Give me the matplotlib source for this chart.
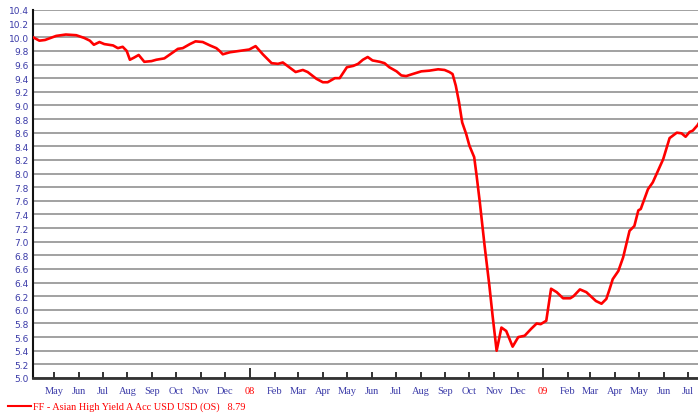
import matplotlib
matplotlib.use("Agg")
import matplotlib.pyplot as plt
from matplotlib.lines import Line2D
import pandas as pd

# Fund price history (USD)
dates = [
    "2007-04-05", "2007-04-13", "2007-04-20", "2007-05-04", "2007-05-16", "2007-05-29",
    "2007-06-08", "2007-06-15", "2007-06-20", "2007-06-27", "2007-07-03", "2007-07-14",
    "2007-07-20", "2007-07-26", "2007-07-31", "2007-08-04", "2007-08-09", "2007-08-15",
    "2007-08-22", "2007-08-31", "2007-09-06", "2007-09-16", "2007-09-27", "2007-10-03",
    "2007-10-09", "2007-10-18", "2007-10-25", "2007-11-03", "2007-11-12", "2007-11-20",
    "2007-11-24", "2007-11-28", "2007-12-07", "2007-12-19", "2007-12-31", "2008-01-08",
    "2008-01-17", "2008-01-28", "2008-02-05", "2008-02-11", "2008-02-19", "2008-02-27",
    "2008-03-07", "2008-03-13", "2008-03-24", "2008-04-01", "2008-04-07", "2008-04-16",
    "2008-04-22", "2008-05-01", "2008-05-09", "2008-05-15", "2008-05-21", "2008-05-27",
    "2008-06-02", "2008-06-11", "2008-06-17", "2008-06-23", "2008-07-02", "2008-07-08",
    "2008-07-14", "2008-07-22", "2008-08-02", "2008-08-12", "2008-08-23", "2008-08-31",
    "2008-09-06", "2008-09-10", "2008-09-14", "2008-09-18", "2008-09-22", "2008-09-27",
    "2008-10-01", "2008-10-07", "2008-10-10", "2008-10-14", "2008-10-20", "2008-10-26",
    "2008-10-30", "2008-11-04", "2008-11-10", "2008-11-16", "2008-11-24", "2008-12-01",
    "2008-12-09", "2008-12-17", "2008-12-24", "2008-12-29", "2009-01-05", "2009-01-11",
    "2009-01-18", "2009-01-26", "2009-02-04", "2009-02-08", "2009-02-16", "2009-02-24",
    "2009-03-08", "2009-03-15", "2009-03-21", "2009-03-25", "2009-03-29", "2009-04-05",
    "2009-04-11", "2009-04-19", "2009-04-25", "2009-04-30", "2009-05-03", "2009-05-12",
    "2009-05-18", "2009-05-31", "2009-06-08", "2009-06-17", "2009-06-23", "2009-06-28",
    "2009-07-03", "2009-07-07", "2009-07-13", "2009-07-17",
]
prices = [
    10.00, 9.95, 9.96, 10.02, 10.04, 10.03,
    9.99, 9.95, 9.89, 9.93, 9.90, 9.88,
    9.84, 9.86, 9.80, 9.67, 9.70, 9.74,
    9.64, 9.65, 9.67, 9.69, 9.78, 9.83,
    9.84, 9.90, 9.94, 9.93, 9.88, 9.84,
    9.80, 9.75, 9.78, 9.80, 9.82, 9.87,
    9.75, 9.62, 9.61, 9.63, 9.56, 9.49,
    9.52, 9.49, 9.39, 9.34, 9.34, 9.40,
    9.40, 9.56, 9.58, 9.61, 9.67, 9.71,
    9.66, 9.64, 9.62, 9.56, 9.50, 9.44,
    9.43, 9.46, 9.50, 9.51, 9.53, 9.52,
    9.49, 9.46, 9.29, 9.05, 8.75, 8.58,
    8.41, 8.24, 7.97, 7.58, 6.94, 6.35,
    5.91, 5.40, 5.74, 5.69, 5.46, 5.60,
    5.62, 5.72, 5.80, 5.79, 5.84, 6.31,
    6.26, 6.17, 6.17, 6.20, 6.30, 6.26,
    6.13, 6.09, 6.16, 6.30, 6.45, 6.57,
    6.77, 7.16, 7.23, 7.46, 7.48, 7.77,
    7.87, 8.21, 8.52, 8.60, 8.59, 8.54,
    8.61, 8.63, 8.71, 8.79,
]
series_label = "FF - Asian High Yield A Acc USD USD (OS)"
last_value = "8.79"

y_ticks = [round(5.0 + 0.2 * i, 1) for i in range(28)]
month_starts = pd.date_range("2007-05-01", "2009-07-01", freq="MS")

LABEL_BLUE = "#3a3aa8"
RED = "#ff0000"

x = pd.to_datetime(dates)

fig = plt.figure(figsize=(6.98, 4.14), dpi=100)
ax = fig.add_axes([33 / 698, 1 - 379 / 414, 1 - 33 / 698, 368 / 414])

for yv in y_ticks:
    ax.axhline(yv, color="#9a9a9a", lw=1.3, zorder=1)

ax.plot(x, prices, color=RED, lw=1.9, zorder=3, solid_joinstyle="round")

ax.set_xlim(pd.Timestamp("2007-04-05"), pd.Timestamp("2009-07-13 12:00"))
ax.set_ylim(5.0, 10.4)

ax.set_yticks(y_ticks)
ax.set_yticklabels([f"{v:.1f}" for v in y_ticks], fontsize=6.5,
                   color=LABEL_BLUE, family="DejaVu Sans")
ax.tick_params(axis="y", length=0, pad=3)

ax.set_xticks(month_starts)
labels = []
for d in month_starts:
    labels.append(d.strftime("%y") if d.month == 1 else d.strftime("%b"))
ax.set_xticklabels(labels, fontsize=7.5, family="Liberation Serif")
ax.tick_params(axis="x", direction="in", length=4, width=1.3, color="#222222", pad=6)
for d, lab, tk in zip(month_starts, ax.get_xticklabels(), ax.xaxis.get_major_ticks()):
    if d.month == 1:
        lab.set_color(RED)
        tk.tick1line.set_markersize(7)
    else:
        lab.set_color(LABEL_BLUE)

for side in ("top", "right"):
    ax.spines[side].set_visible(False)
ax.spines["left"].set_color("#111111")
ax.spines["left"].set_linewidth(1.5)
ax.spines["bottom"].set_color("#333333")
ax.spines["bottom"].set_linewidth(2.0)

# legend row under the axis
fig.add_artist(Line2D([8 / 698, 31 / 698], [1 - 407 / 414] * 2, color=RED, lw=1.5,
                      transform=fig.transFigure))
fig.text(33 / 698, 1 - 407 / 414, f"{series_label}   {last_value}", color=RED,
         fontsize=7.4, family="Liberation Serif", va="center", ha="left")

fig.savefig("out.png", dpi=100)
